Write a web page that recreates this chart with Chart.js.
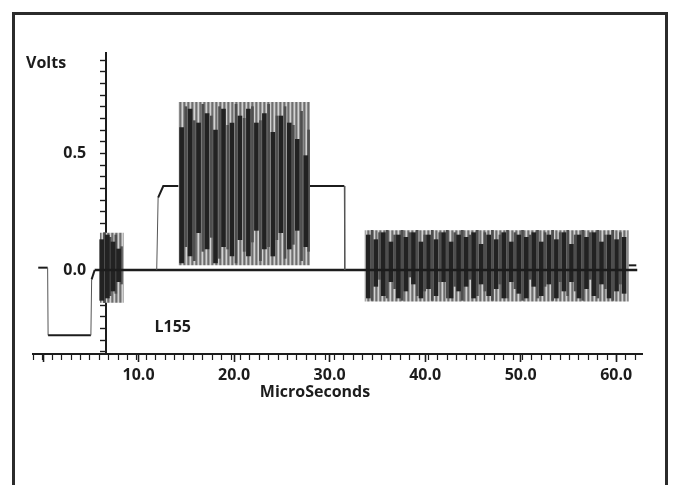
<!DOCTYPE html>
<html>
<head>
<meta charset="utf-8">
<script src="https://cdn.jsdelivr.net/npm/chart.js@4.4.1/dist/chart.umd.min.js"></script>
<style>
  html, body { margin: 0; padding: 0; background: #fff; }
  #frame { position: absolute; left: 12px; top: 12px; width: 650px; height: 490px; border: 3px solid #2b2b2b; }
  #scope { position: absolute; left: 0; top: 0; }
</style>
</head>
<body>
<div id="frame"></div>
<canvas id="scope" width="677" height="485"></canvas>
<script>
// axis ranges: time in microseconds, level in volts
const timeMin = -1.05, timeMax = 62.7;
const voltMin = -0.36, voltMax = 0.93;
const voltAxisAt = 6.2;
const voltLabelsAt = 4.1;

// main trace (null = pen lifted)
const traceT = [-1.0, 0.0, 0.05, 4.6, 4.68, 5.0, 5.1, 11.6, 11.75, 12.3, 13.9, 14.0, 27.9, 31.55, 31.6, 31.7, 61.8, 62.6];
const traceV = [0.01, 0.01, -0.28, -0.28, -0.04, 0.0, null, 0.0, 0.31, 0.36, 0.36, null, 0.36, 0.36, 0.0, null, 0.02, 0.02];

// 0 V reference line
const zeroT = [5.0, 62.7];
const zeroV = [0, 0];

// burst envelopes
const burstStart = [5.55, 13.9, 33.7];
const burstEnd = [8.1, 27.9, 61.8];
const burstTop = [0.16, 0.72, 0.17];
const burstBottom = [-0.14, 0.02, -0.135];

// dark strokes inside the bursts
const darkT = [
  5.75, 6.35, 6.95, 7.55,
  14.25, 15.15, 16.05, 16.95, 17.85, 18.7, 19.6, 20.45, 21.35, 22.2, 23.05, 23.95, 24.8, 25.7, 26.55, 27.45,
  34.1, 34.9, 35.7, 36.5, 37.3, 38.1, 38.9, 39.7, 40.5, 41.3, 42.1, 42.9, 43.7, 44.5, 45.3, 46.1, 46.9, 47.7,
  48.5, 49.3, 50.1, 50.9, 51.7, 52.5, 53.3, 54.1, 54.9, 55.7, 56.5, 57.3, 58.1, 58.9, 59.7, 60.5, 61.3
];
const darkLo = [
  -0.13, -0.12, -0.09, -0.05,
  0.03, 0.06, 0.16, 0.09, 0.03, 0.10, 0.06, 0.13, 0.06, 0.17, 0.09, 0.06, 0.16, 0.09, 0.17, 0.10,
  -0.12, -0.07, -0.11, -0.05, -0.12, -0.09, -0.06, -0.12, -0.08, -0.11, -0.05, -0.12, -0.09, -0.07, -0.12, -0.06, -0.11, -0.08,
  -0.12, -0.05, -0.10, -0.12, -0.07, -0.11, -0.06, -0.12, -0.09, -0.05, -0.12, -0.08, -0.11, -0.06, -0.12, -0.09, -0.10
];
const darkHi = [
  0.13, 0.15, 0.12, 0.09,
  0.61, 0.69, 0.63, 0.67, 0.60, 0.69, 0.63, 0.66, 0.69, 0.63, 0.67, 0.59, 0.66, 0.63, 0.56, 0.49,
  0.15, 0.13, 0.16, 0.12, 0.15, 0.14, 0.16, 0.12, 0.15, 0.13, 0.16, 0.12, 0.15, 0.14, 0.16, 0.11, 0.15, 0.13,
  0.16, 0.12, 0.15, 0.14, 0.16, 0.12, 0.15, 0.13, 0.16, 0.11, 0.15, 0.14, 0.16, 0.12, 0.15, 0.13, 0.14
];

// grey strokes between the dark ones
const greyT = [
  6.05, 6.65, 7.25, 7.85,
  14.7, 15.6, 16.5, 17.4, 18.28, 19.15, 20.03, 20.9, 21.78, 22.63, 23.5, 24.38, 25.25, 26.13, 27.0, 27.75,
  34.5, 35.3, 36.1, 36.9, 37.7, 38.5, 39.3, 40.1, 40.9, 41.7, 42.5, 43.3, 44.1, 44.9, 45.7, 46.5, 47.3,
  48.1, 48.9, 49.7, 50.5, 51.3, 52.1, 52.9, 53.7, 54.5, 55.3, 56.1, 56.9, 57.7, 58.5, 59.3, 60.1, 60.9
];
const greyLo = [
  -0.14, -0.11, -0.10, -0.06,
  0.10, 0.04, 0.08, 0.14, 0.05, 0.09, 0.03, 0.08, 0.12, 0.04, 0.10, 0.13, 0.05, 0.11, 0.04, 0.08,
  -0.13, -0.04, -0.12, -0.08, -0.13, -0.03, -0.11, -0.09, -0.13, -0.05, -0.12, -0.07, -0.13, -0.04, -0.11, -0.09, -0.13,
  -0.06, -0.12, -0.08, -0.13, -0.04, -0.12, -0.07, -0.13, -0.05, -0.11, -0.09, -0.13, -0.04, -0.12, -0.08, -0.13, -0.06
];
const greyHi = [
  0.16, 0.14, 0.15, 0.10,
  0.70, 0.64, 0.71, 0.66, 0.70, 0.62, 0.71, 0.65, 0.70, 0.64, 0.71, 0.66, 0.70, 0.62, 0.68, 0.60,
  0.17, 0.16, 0.17, 0.15, 0.17, 0.16, 0.17, 0.15, 0.17, 0.16, 0.17, 0.16, 0.17, 0.15, 0.17, 0.16, 0.17,
  0.15, 0.17, 0.16, 0.17, 0.15, 0.17, 0.16, 0.17, 0.16, 0.17, 0.15, 0.17, 0.16, 0.17, 0.15, 0.17, 0.16
];

const INK = '#1c1c1c';
const FONT = { family: '"Open Sans", "DejaVu Sans", sans-serif', size: 16, weight: 'bold' };

// fine vertical hatching for the burst fill
function hatch() {
  const c = document.createElement('canvas');
  c.width = 4; c.height = 1;
  const g = c.getContext('2d');
  ['#6e6e6e', '#a4a4a4', '#d2d2d2', '#8a8a8a'].forEach((col, i) => {
    g.fillStyle = col;
    g.fillRect(i, 0, 1, 1);
  });
  return g.createPattern(c, 'repeat');
}

const pts = (ts, vs) => ts.map((t, i) => ({ x: t, y: vs[i] }));
const bars = (ts, lo, hi) => ts.map((t, i) => ({ x: t, y: [lo[i], hi[i]] }));

const hatchFill = hatch();
const envelopes = burstStart.map((t0, i) => ({
  type: 'line',
  data: [{ x: t0, y: burstTop[i] }, { x: burstEnd[i], y: burstTop[i] }],
  fill: { value: burstBottom[i] },
  backgroundColor: hatchFill,
  borderWidth: 0,
  pointRadius: 0,
  order: 5
}));

const steep = c => Math.abs(c.p1.parsed.x - c.p0.parsed.x) < 0.3;

const scopeText = {
  id: 'scopeText',
  afterDraw(chart) {
    const { ctx, scales } = chart;
    ctx.save();
    ctx.fillStyle = INK;
    ctx.font = 'bold 16px "Open Sans", "DejaVu Sans", sans-serif';
    ctx.textBaseline = 'middle';
    ctx.textAlign = 'left';
    ctx.fillText('Volts', 26, 63);
    ctx.textAlign = 'center';
    ctx.fillText('L155', scales.x.getPixelForValue(13.3), scales.y.getPixelForValue(-0.245));
    ctx.fillText('MicroSeconds', 315, 392);
    ctx.restore();
  }
};

const voltLabel = v => Math.abs(v) < 1e-6 ? '0.0' : (Math.abs(v - 0.5) < 1e-6 ? '0.5' : '');

new Chart(document.getElementById('scope'), {
  type: 'line',
  data: {
    datasets: [
      ...envelopes,
      {
        type: 'bar',
        data: bars(greyT, greyLo, greyHi),
        backgroundColor: '#4e4e4e',
        barThickness: 2,
        grouped: false,
        order: 4
      },
      {
        type: 'bar',
        data: bars(darkT, darkLo, darkHi),
        backgroundColor: '#222',
        barThickness: 4,
        grouped: false,
        order: 3
      },
      {
        data: pts(zeroT, zeroV),
        borderColor: INK,
        borderWidth: 2.5,
        pointRadius: 0,
        order: 2
      },
      {
        data: pts(traceT, traceV),
        borderColor: INK,
        borderWidth: 2,
        pointRadius: 0,
        segment: {
          borderColor: c => steep(c) ? '#555' : INK,
          borderWidth: c => steep(c) ? 1 : 2
        },
        order: 1
      }
    ]
  },
  options: {
    responsive: false,
    animation: false,
    devicePixelRatio: 1,
    layout: { padding: { left: 33, top: 53, right: 35, bottom: 131 } },
    plugins: { legend: { display: false }, tooltip: { enabled: false } },
    scales: {
      x: {
        type: 'linear', axis: 'x',
        min: timeMin, max: timeMax,
        position: { y: voltMin },
        grid: { drawOnChartArea: false, tickLength: 5, color: INK, tickWidth: 1.2 },
        border: { color: INK, width: 2 },
        ticks: { stepSize: 1, includeBounds: false, autoSkip: false, maxRotation: 0, minRotation: 0, callback: () => '' }
      },
      xMajor: {
        type: 'linear', axis: 'x',
        min: timeMin, max: timeMax,
        position: { y: voltMin },
        grid: { drawOnChartArea: false, tickLength: 8, color: INK, tickWidth: 1.6 },
        border: { display: false },
        ticks: {
          stepSize: 10, includeBounds: false, autoSkip: false, maxRotation: 0, minRotation: 0,
          padding: 4, color: INK, font: FONT,
          callback: v => v > 0 ? v.toFixed(1) : ''
        }
      },
      y: {
        type: 'linear',
        min: voltMin, max: voltMax,
        position: { x: voltAxisAt },
        grid: { drawOnChartArea: false, tickLength: 5, color: INK, tickWidth: 1.4 },
        border: { color: INK, width: 2 },
        ticks: { stepSize: 0.05, includeBounds: false, autoSkip: false, callback: () => '' }
      },
      yLabel: {
        type: 'linear', axis: 'y',
        min: voltMin, max: voltMax,
        position: { x: voltLabelsAt },
        grid: { display: false },
        border: { display: false },
        ticks: { stepSize: 0.05, includeBounds: false, autoSkip: false, color: INK, font: FONT, callback: voltLabel }
      }
    }
  },
  plugins: [scopeText]
});
</script>
</body>
</html>
